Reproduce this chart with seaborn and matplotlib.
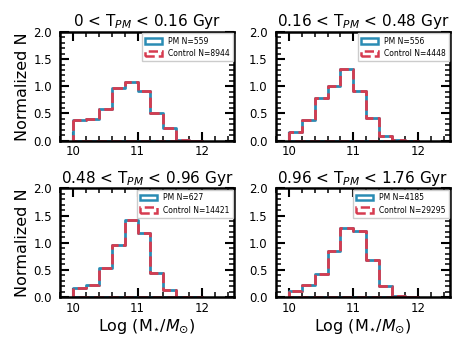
import numpy as np
import pandas as pd
import matplotlib
matplotlib.use("Agg")
import matplotlib.pyplot as plt
from matplotlib.patches import Patch
from matplotlib.ticker import MultipleLocator
import seaborn as sns

# bin edges of log stellar mass, 0.2 dex wide
edges = np.round(np.arange(10.0, 12.01, 0.2), 2)
centers = (edges[:-1] + edges[1:]) / 2

titles = [r"0 < T$_{PM}$ < 0.16 Gyr", r"0.16 < T$_{PM}$ < 0.48 Gyr",
          r"0.48 < T$_{PM}$ < 0.96 Gyr", r"0.96 < T$_{PM}$ < 1.76 Gyr"]
n_pm = [559, 556, 627, 4185]
n_ctrl = [8944, 4448, 14421, 29295]

# normalized counts per bin
pm_1 = [0.37, 0.39, 0.59, 0.97, 1.07, 0.91, 0.50, 0.23, 0.01, 0.0]
pm_2 = [0.15, 0.37, 0.78, 1.00, 1.31, 0.91, 0.42, 0.08, 0.01, 0.0]
pm_3 = [0.17, 0.23, 0.53, 0.96, 1.41, 1.17, 0.44, 0.13, 0.0, 0.0]
pm_4 = [0.11, 0.23, 0.42, 0.85, 1.27, 1.21, 0.69, 0.20, 0.02, 0.0]
ctrl_1 = [0.37, 0.39, 0.59, 0.97, 1.07, 0.91, 0.50, 0.23, 0.01, 0.0]
ctrl_2 = [0.15, 0.37, 0.78, 1.00, 1.31, 0.91, 0.42, 0.08, 0.01, 0.0]
ctrl_3 = [0.17, 0.23, 0.53, 0.96, 1.41, 1.17, 0.44, 0.13, 0.0, 0.0]
ctrl_4 = [0.11, 0.23, 0.42, 0.85, 1.27, 1.21, 0.69, 0.20, 0.02, 0.0]

pm_vals = [pm_1, pm_2, pm_3, pm_4]
ctrl_vals = [ctrl_1, ctrl_2, ctrl_3, ctrl_4]

PM_COL = "#2a8cb4"
CTRL_COL = "#d63c50"

sns.set_style("ticks")
plt.rcParams["font.family"] = ["DejaVu Sans"]
plt.rcParams.update({"text.color": "black", "axes.labelcolor": "black",
                     "xtick.color": "black", "ytick.color": "black",
                     "axes.edgecolor": "black"})

fig, axes = plt.subplots(2, 2, figsize=(4.63, 3.47), dpi=100)
plt.subplots_adjust(left=0.13, right=0.972, top=0.908, bottom=0.144, wspace=0.24, hspace=0.44)

for i, ax in enumerate(axes.flat):
    df = pd.DataFrame({"x": centers, "pm": pm_vals[i], "ctrl": ctrl_vals[i]})
    # fill=True with an empty face gives the closed step outline like hist(histtype="step")
    sns.histplot(data=df, x="x", weights="pm", bins=len(centers), binrange=(edges[0], edges[-1]),
                 element="step", fill=True, color=PM_COL, facecolor="none", edgecolor=PM_COL,
                 linewidth=2, ax=ax)
    sns.histplot(data=df, x="x", weights="ctrl", bins=len(centers), binrange=(edges[0], edges[-1]),
                 element="step", fill=True, color=CTRL_COL, facecolor="none", edgecolor=CTRL_COL,
                 linewidth=2, linestyle="--", ax=ax)
    ax.set_xlim(9.8, 12.5)
    ax.set_ylim(0, 2.0)
    ax.set_title(titles[i], fontsize=11, pad=4)
    ax.xaxis.set_major_locator(MultipleLocator(1))
    ax.xaxis.set_minor_locator(MultipleLocator(0.2))
    ax.yaxis.set_major_locator(MultipleLocator(0.5))
    ax.yaxis.set_minor_locator(MultipleLocator(0.1))
    ax.tick_params(which="both", direction="in", top=True, right=True, labelsize=8.5)
    ax.tick_params(which="major", length=6.5, width=1.5)
    ax.tick_params(which="minor", length=3.5, width=1.1)
    ax.tick_params(axis="x", which="major", pad=3.5)
    ax.tick_params(axis="y", which="major", pad=6)
    for sp in ax.spines.values():
        sp.set_linewidth(1.8)
    ax.set_ylabel("Normalized N" if i % 2 == 0 else "", fontsize=11.5, labelpad=2)
    ax.set_xlabel(r"Log (M$_{\star}$/$M_{\odot}$)" if i >= 2 else "", fontsize=11.5, labelpad=2)
    handles = [Patch(facecolor="none", edgecolor=PM_COL, linewidth=1.8),
               Patch(facecolor="none", edgecolor=CTRL_COL, linewidth=1.8, linestyle="--")]
    ax.legend(handles, [f"PM N={n_pm[i]}", f"Control N={n_ctrl[i]}"], loc="upper right",
              fontsize=5.5, borderaxespad=0.2, handlelength=2.2, frameon=True,
              fancybox=False, edgecolor="#cccccc", framealpha=1)

fig.savefig("out.png", dpi=100)
